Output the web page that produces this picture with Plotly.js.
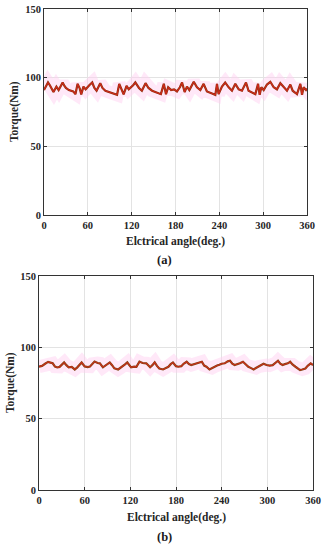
<!DOCTYPE html>
<html>
<head>
<meta charset="utf-8">
<script src="https://cdn.plot.ly/plotly-3.0.1.min.js"></script>
<style>html,body{margin:0;padding:0;background:#fff;}#chart{width:326px;height:550px;}</style>
</head>
<body>
<div id="chart"></div>
<script>
// (a) torque vs electrical angle
const angleA = [0,3,5.5,8,10,13,17,20,23,25.5,28,30,34,40,43,46,49,51,54,57,62,66,69,72,77,80,84,89,96,100,103,107,109,113,116,122,125,130,134,139,143,148,155,160,164,167,170,174,178,182,186,189,192.5,195.7,199,205,209.4,214,218.5,223,230,234.5,236.8,239,243.6,248,252.8,257.3,261.9,266.5,271,276.5,280,284.7,289.3,293,295.2,297.5,300.7,305.2,309.8,314.4,318.9,323.5,328,332.6,337.2,340.4,344,346.3,350.9,353.2,355.4,358.6,360];
const torqueA = [91,94,96.5,94.5,92,89.5,93.5,91,94,96.5,94,92.5,91,90,88,95.5,92,87.8,93.5,91.5,94.5,96.5,92.5,90.5,96,92.5,90.5,89.5,88.5,87.5,95.5,91,87.8,94,91.5,94.5,96.5,92.5,90.5,96,92.5,90.5,89,88,95.5,88,93,91,91.5,90,93,96.5,89.5,93.5,91,97,93,91,95.5,90,88.5,87.5,95.5,88,93.5,96.5,93,90.5,95.5,91.5,90.5,96.5,90.5,89.5,88,95.5,87.5,93,91,95,97,93,91.5,96,93,90.5,95,90.5,89,88,95.5,87.5,93,91,92];

// (b) torque vs electrical angle
const angleB = [0,4,8,12,15,18,21,24,27,30,33,36,39,43,47,50,53,56,60,64,67,70,73,77,80,84,88,93,96,99,104,107,110,113,116,119,121,125,128,132,136,141,146,149,152,155,158,163,167,170,173,176,180,183,187,190,194,197,200,204,207,210,214,217,220,224,227,230,234,237,240,244,248,251,254,257,261,264,268,272,275,278,282,285,288,292,295,299,303,307,311,314,317,320,323,327,330,333,337,340,343,346,350,353,357,360];
const torqueB = [86.5,87,88.5,89.8,89.3,88.8,86.5,85.9,86.3,88,89.4,87.5,86,86.3,84.5,85.8,87.5,89.4,86.6,86.2,86.5,88.5,90,89,88.8,86,87.5,89.4,87.5,85.3,84.5,85.5,86.4,88,89.4,87,86,86.5,86.3,90,89,88.8,86,87.5,89.5,87,85.2,84.5,85.8,86.4,88.2,89.4,86.8,86.4,86.8,88.5,89.9,88.3,87.6,88.2,88.8,89.5,89.9,87.2,86.4,84.5,85.5,86.4,87.3,87.8,88.5,88.8,90.2,90.6,88.5,87.6,88.2,88.8,89.9,87.5,86.4,85.6,84.5,85.5,86.4,87.8,88.5,87.6,87.2,87.5,89,90.6,88.5,87.6,88.2,88.8,89.9,88,86.4,85.2,84.1,84.5,85.2,87,88.8,87.6];

const xTicks = [0,60,120,180,240,300,360];
const yTicks = [0,50,100,150];
const xTitle = 'Elctrical angle(deg.)';
const yTitle = 'Torque(Nm)';
const panelLabels = ['(a)','(b)'];

const FONT = 'Liberation Serif, Times New Roman, serif';
const tickFont = {family: FONT, size: 10.5, color: '#262626', weight: 'bold'};

function band(x, y, xa, ya) {
  return {x, y, xaxis: xa, yaxis: ya, mode: 'lines', hoverinfo: 'skip',
    line: {color: 'rgba(255,205,240,0.45)', width: 13}, showlegend: false};
}
function dark(x, y, xa, ya, c) {
  return {x, y, xaxis: xa, yaxis: ya, mode: 'lines', hoverinfo: 'skip',
    line: {color: c, width: 2.2}, showlegend: false};
}
function red(x, y, xa, ya, c) {
  return {x, y, xaxis: xa, yaxis: ya, mode: 'lines', hoverinfo: 'skip',
    line: {color: c, width: 1.1}, showlegend: false};
}

const data = [
  band(angleA, torqueA, 'x', 'y'),
  dark(angleA, torqueA, 'x', 'y', '#8a3412'),
  red(angleA, torqueA, 'x', 'y', '#d0281a'),
  band(angleB, torqueB, 'x2', 'y2'),
  dark(angleB, torqueB, 'x2', 'y2', '#7a4a16'),
  red(angleB, torqueB, 'x2', 'y2', '#cc2c1a')
];

function xax(domain, anchor) {
  return {domain, anchor, range: [0, 360], tickvals: xTicks, ticktext: xTicks.map(String),
    showgrid: true, gridcolor: '#e3e3e3', gridwidth: 1, zeroline: false,
    showline: true, linecolor: '#333', linewidth: 1, mirror: 'ticks',
    ticks: 'inside', ticklen: 3, tickcolor: '#333', tickfont: tickFont, fixedrange: true};
}
function yax(domain, anchor) {
  return {domain, anchor, range: [0, 150], tickvals: yTicks, ticktext: yTicks.map(String),
    showgrid: true, gridcolor: '#e3e3e3', gridwidth: 1, zeroline: false,
    showline: true, linecolor: '#333', linewidth: 1, mirror: 'ticks',
    ticks: 'inside', ticklen: 3, tickcolor: '#333', tickfont: tickFont, fixedrange: true};
}

const titleFont = {family: FONT, size: 11.5, color: '#262626', weight: 'bold'};
const labelFont = {family: FONT, size: 12.5, color: '#1a1a1a', weight: 'bold'};

const layout = {
  width: 326, height: 550,
  margin: {l: 0, r: 0, t: 0, b: 0},
  paper_bgcolor: '#fff', plot_bgcolor: '#fff',
  showlegend: false,
  hovermode: false,
  xaxis: xax([44/326, 307/326], 'y'),
  yaxis: yax([(550-215)/550, (550-9)/550], 'x'),
  xaxis2: xax([39/326, 313/326], 'y2'),
  yaxis2: yax([(550-490)/550, (550-276)/550], 'x2'),
  annotations: [
    {text: xTitle, xref: 'paper', yref: 'paper', x: 175.5/326, y: 1 - 241/550, showarrow: false, font: titleFont, xanchor: 'center', yanchor: 'middle'},
    {text: yTitle, xref: 'paper', yref: 'paper', x: 15/326, y: 1 - 112/550, showarrow: false, font: titleFont, textangle: -90, xanchor: 'center', yanchor: 'middle'},
    {text: panelLabels[0], xref: 'paper', yref: 'paper', x: 164/326, y: 1 - 260/550, showarrow: false, font: labelFont, xanchor: 'center', yanchor: 'middle'},
    {text: xTitle, xref: 'paper', yref: 'paper', x: 176/326, y: 1 - 517/550, showarrow: false, font: titleFont, xanchor: 'center', yanchor: 'middle'},
    {text: yTitle, xref: 'paper', yref: 'paper', x: 10/326, y: 1 - 383/550, showarrow: false, font: titleFont, textangle: -90, xanchor: 'center', yanchor: 'middle'},
    {text: panelLabels[1], xref: 'paper', yref: 'paper', x: 164/326, y: 1 - 537/550, showarrow: false, font: labelFont, xanchor: 'center', yanchor: 'middle'}
  ]
};

Plotly.newPlot('chart', data, layout, {displayModeBar: false, staticPlot: true});
</script>
</body>
</html>
